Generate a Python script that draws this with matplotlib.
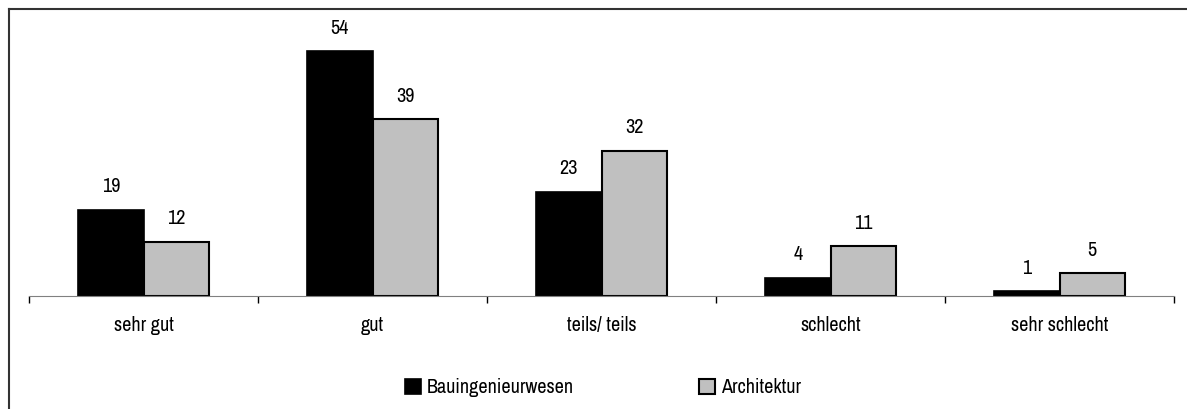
import matplotlib.pyplot as plt
import matplotlib.font_manager as fm
import numpy as np

categories = ['sehr gut', 'gut', 'teils/ teils', 'schlecht', 'sehr schlecht']
bauing = [19, 54, 23, 4, 1]
archi = [12, 39, 32, 11, 5]
series_names = ['Bauingenieurwesen', 'Architektur']

# pick a narrow face if one is installed (reference uses Arial Narrow)
fonts = fm.fontManager.ttflist
narrow = [f for f in fonts if 'Narrow' in f.name]
cond = [f for f in fonts if f.name == 'DejaVu Sans' and f.stretch == 'condensed']
FS = 13
if narrow:
    plt.rcParams['font.family'] = [narrow[0].name, 'DejaVu Sans']
    FS = 14.5
elif cond:
    plt.rcParams['font.family'] = ['DejaVu Sans']
    plt.rcParams['font.stretch'] = 'condensed'
    FS = 12.5
else:
    plt.rcParams['font.family'] = ['Liberation Sans', 'DejaVu Sans']
plt.rcParams['font.size'] = FS

fig = plt.figure(figsize=(11.87, 4.09), dpi=100)
ax = fig.add_axes([29 / 1187, 113 / 409, 1145 / 1187, 272 / 409])

x = np.arange(len(categories))
w = 0.285
b1 = ax.bar(x - w / 2, bauing, w, color='black', edgecolor='black', linewidth=1.2,
            label=series_names[0])
b2 = ax.bar(x + w / 2, archi, w, color='#c0c0c0', edgecolor='black', linewidth=1.5,
            label=series_names[1])
for bars, vals in ((b1, bauing), (b2, archi)):
    for r, v in zip(bars, vals):
        ax.text(r.get_x() + r.get_width() / 2, v + 3.0, str(v), ha='center', va='bottom')

ax.set_xlim(-0.5, len(categories) - 0.5)
ax.set_ylim(0, 60)
ax.set_yticks([])
for s in ['top', 'right', 'left']:
    ax.spines[s].set_visible(False)
ax.spines['bottom'].set_color('#808080')
ax.set_xticks(np.arange(-0.5, len(categories), 1.0))
ax.set_xticklabels([])
ax.tick_params(axis='x', length=5, color='black', width=1, direction='out')
for i, c in enumerate(categories):
    ax.text(i, -4.5, c, ha='center', va='top')

fig.legend(handles=[b1, b2], loc='center', bbox_to_anchor=(0.508, 0.052), ncol=2,
           frameon=False, handlelength=0.8, handleheight=0.8, handletextpad=0.3,
           columnspacing=6.2, fontsize=FS)

# outer frame (top and left only visible)
fig.add_artist(plt.Line2D([8.5 / 1187, 1], [1 - 8.5 / 409, 1 - 8.5 / 409], color='#333333',
                          linewidth=1.5, transform=fig.transFigure))
fig.add_artist(plt.Line2D([8.5 / 1187, 8.5 / 1187], [0, 1 - 8.5 / 409], color='#333333',
                          linewidth=1.5, transform=fig.transFigure))

fig.savefig('out.png', dpi=100)
